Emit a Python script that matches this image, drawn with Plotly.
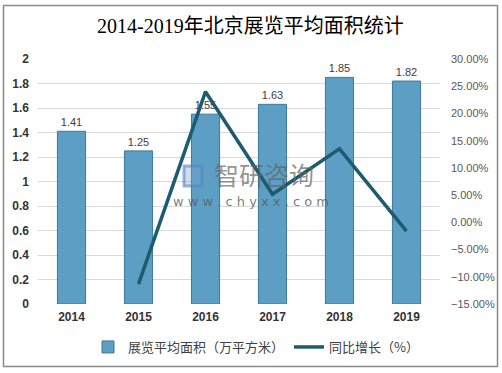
import plotly.graph_objects as go

years = ["2014", "2015", "2016", "2017", "2018", "2019"]
area = [1.41, 1.25, 1.55, 1.63, 1.85, 1.82]
growth_years = ["2015", "2016", "2017", "2018", "2019"]
growth = [-0.1135, 0.24, 0.0516, 0.135, -0.0162]
left_ticks = [0, 0.2, 0.4, 0.6, 0.8, 1, 1.2, 1.4, 1.6, 1.8, 2]
left_tick_text = ["0", "0.2", "0.4", "0.6", "0.8", "1", "1.2", "1.4", "1.6", "1.8", "2"]

fig = go.Figure()
fig.add_trace(go.Bar(
    x=years, y=area, name="展览平均面积（万平方米）",
    marker=dict(color="#5d9fc4", line=dict(color="#3e7898", width=1)),
    width=0.42,
    text=[f"{v:.2f}" for v in area], textposition="outside",
    textfont=dict(size=11, color="#404040", family="Liberation Sans, Arial"),
    cliponaxis=False,
))
fig.add_trace(go.Scatter(
    x=growth_years, y=growth, name="同比增长（%）", yaxis="y2",
    mode="lines", line=dict(color="#1c5b70", width=3.5),
))

L, R, T, B = 38, 62, 59, 69
W, H = 502, 373
pw, ph = W - L - R, H - T - B

def px(x):
    return (x - L) / pw

def py(y):
    return (H - B - y) / ph

fig.add_shape(type="rect", xref="paper", yref="paper",
              x0=px(3.5), x1=px(497.5), y0=py(366.5), y1=py(5.5),
              line=dict(color="#8a8a8a", width=1.5), layer="below")

fig.add_annotation(text="2014-2019年北京展览平均面积统计", xref="paper", yref="paper",
                   x=px(250), y=py(26), xanchor="center", yanchor="middle", showarrow=False,
                   font=dict(size=20, color="#000000", family="Liberation Serif, Noto Sans CJK SC"))

# watermark
fig.add_annotation(text="智研咨询", xref="paper", yref="paper",
                   x=px(264), y=py(174), xanchor="center", yanchor="middle", showarrow=False,
                   font=dict(size=25, color="rgba(100,100,100,0.7)", family="Noto Sans CJK SC"))
fig.add_annotation(text="w w w . c h y x x . c o m", xref="paper", yref="paper",
                   x=px(251), y=py(201), xanchor="center", yanchor="middle", showarrow=False,
                   font=dict(size=13, color="rgba(90,90,90,0.8)", family="DejaVu Sans"))
fig.add_shape(type="rect", xref="paper", yref="paper",
              x0=px(184), x1=px(202), y0=py(186), y1=py(166),
              line=dict(color="rgba(90,130,190,0.6)", width=3), fillcolor="rgba(120,160,210,0.35)")

fig.update_layout(
    width=W, height=H,
    margin=dict(l=L, r=R, t=T, b=B, autoexpand=False),
    paper_bgcolor="white", plot_bgcolor="white",
    showlegend=True,
    legend=dict(orientation="h", x=px(88), y=py(347), xanchor="left", yanchor="middle",
                font=dict(size=13, color="#404040", family="Noto Sans CJK SC"),
                tracegroupgap=0, bgcolor="rgba(0,0,0,0)"),
    xaxis=dict(type="category", showline=False, ticks="",
               tickvals=years, ticktext=[f"<b>{y}</b>" for y in years],
               tickfont=dict(size=12, color="#333333", family="Liberation Sans, Arial"),
               ticklabelstandoff=4),
    yaxis=dict(range=[0, 2], tickvals=left_ticks, ticktext=[f"<b>{t}</b>" for t in left_tick_text],
               showgrid=True, gridcolor="#d9d9d9", gridwidth=1, zeroline=False,
               tickfont=dict(size=12, color="#333333", family="Liberation Sans, Arial"),
               ticks="", ticklabelstandoff=8),
    yaxis2=dict(range=[-0.15, 0.30], dtick=0.05, tick0=-0.15, tickformat=".2%",
                overlaying="y", side="right", showgrid=False, zeroline=False,
                tickfont=dict(size=11, color="#595959", family="Liberation Sans, Arial"),
                ticks="", ticklabelstandoff=10),
)

fig.write_html("out.html", config={"displayModeBar": False},
               post_script="document.body.style.margin='0';document.body.style.overflow='hidden';")
